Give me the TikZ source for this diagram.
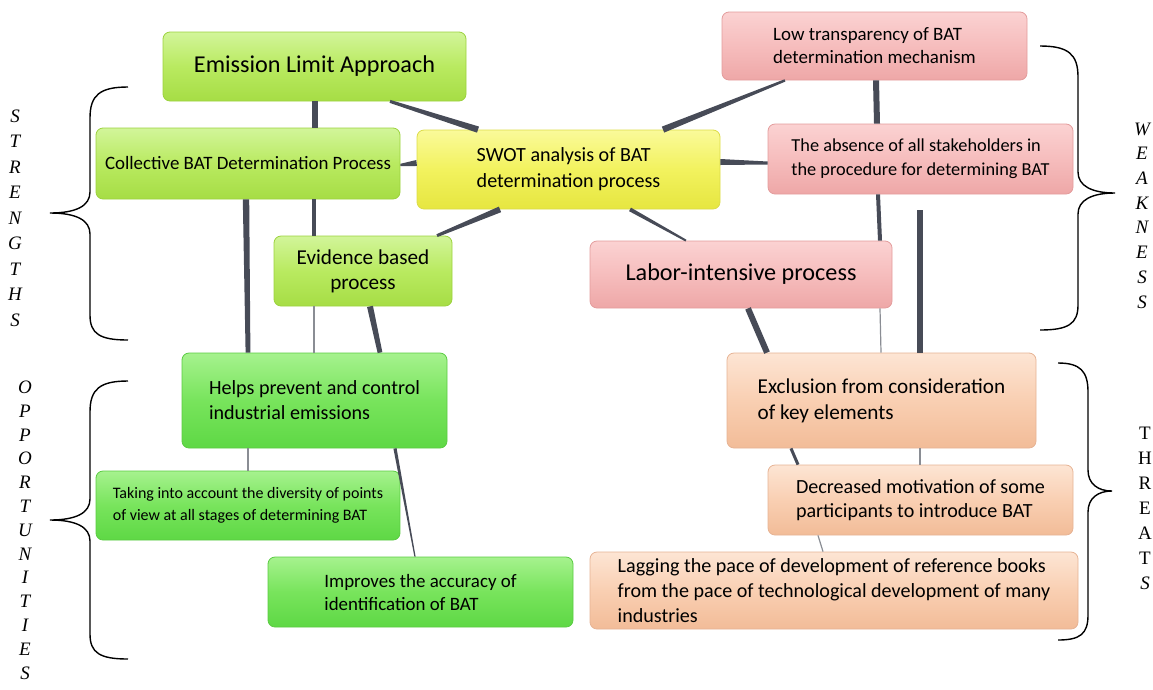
\documentclass[tikz,border=0pt]{standalone}
\usepackage{fontspec}
\setmainfont{Carlito}
\newfontfamily\tms{Liberation Serif}
\usetikzlibrary{calc}
\definecolor{lineC}{HTML}{474B57}
\definecolor{thinC}{HTML}{8A8D94}
\newcommand\fsz[2]{\fontsize{#1}{#2}\selectfont}
\newcommand\conn[5][lineC]{%
  \fill[#1] ($(#2)!#4!90:(#3)$) -- ($(#3)!#5!-90:(#2)$) -- ($(#3)!#5!90:(#2)$) -- ($(#2)!#4!-90:(#3)$) -- cycle;}
\tikzset{
  box/.style={rounded corners=7pt, line width=0.8pt, align=left, inner sep=0pt},
  lgbox/.style={box, draw=lgB, top color=lgT, bottom color=lgD, middle color=lgM},
  bgbox/.style={box, draw=bgB, top color=bgT, bottom color=bgD, middle color=bgM},
  ybox/.style={box, draw=yB, top color=yT, bottom color=yD, middle color=yM},
  pbox/.style={box, draw=pB, top color=pT, bottom color=pD, middle color=pM},
  obox/.style={box, draw=oB, top color=oT, bottom color=oD, middle color=oM},
  side/.style={align=center, inner sep=0pt}
}
\definecolor{lgT}{HTML}{D2F59A}\definecolor{lgM}{HTML}{B9EA60}\definecolor{lgD}{HTML}{A6DD45}\definecolor{lgB}{HTML}{9CD23E}
\definecolor{bgT}{HTML}{A6F28E}\definecolor{bgM}{HTML}{78E45C}\definecolor{bgD}{HTML}{5ED845}\definecolor{bgB}{HTML}{5ACB42}
\definecolor{yT}{HTML}{FAFA9A}\definecolor{yM}{HTML}{F2F25E}\definecolor{yD}{HTML}{E6E640}\definecolor{yB}{HTML}{DCDC48}
\definecolor{pT}{HTML}{FBD2D2}\definecolor{pM}{HTML}{F6BDBD}\definecolor{pD}{HTML}{EEA7A7}\definecolor{pB}{HTML}{E39C9C}
\definecolor{oT}{HTML}{FDE5D4}\definecolor{oM}{HTML}{F9CFB2}\definecolor{oD}{HTML}{F2BC98}\definecolor{oB}{HTML}{E6B394}
\begin{document}
\begin{tikzpicture}[x=1pt,y=-1pt]
\useasboundingbox (0,0) rectangle (1153,689);
% nodes
\node[lgbox, minimum width=303, minimum height=69, font=\fsz{24.2}{28}] (ela) at (314.5,66.5) {Emission Limit Approach};
\node[lgbox, minimum width=304, minimum height=71, font=\fsz{18.9}{22}] (col) at (248,163.5) {Collective BAT Determination Process};
\node[ybox, minimum width=303, minimum height=79, font=\fsz{20.1}{26}] (swot) at (568.5,169.5) {SWOT analysis of BAT\\determination process};
\node[lgbox, minimum width=178, minimum height=70, align=center, font=\fsz{21.2}{25}] (evi) at (363,271) {Evidence based\\process};
\node[pbox, minimum width=305, minimum height=68, font=\fsz{18.9}{23}] (low) at (874.5,46) {Low transparency of BAT\\determination mechanism};
\node[pbox, minimum width=305, minimum height=70, font=\fsz{18.3}{24}] (abs) at (920.5,159) {The absence of all stakeholders in\\the procedure for determining BAT};
\node[pbox, minimum width=302, minimum height=67, font=\fsz{24.2}{28}] (lab) at (741,274.5) {Labor-intensive process};
\node[bgbox, minimum width=265, minimum height=95, font=\fsz{20.1}{25}] (hel) at (314.5,400.5) {Helps prevent and control\\industrial emissions};
\node[bgbox, minimum width=304, minimum height=69, font=\fsz{16}{22}] (tak) at (248,505.5) {Taking into account the diversity of points\\of view at all stages of determining BAT};
\node[bgbox, minimum width=305, minimum height=70, font=\fsz{18.9}{23}] (imp) at (420.5,592) {Improves the accuracy of\\identification of BAT};
\node[obox, minimum width=309, minimum height=95, font=\fsz{21.2}{26}] (exc) at (881.5,400.5) {Exclusion from consideration\\of key elements};
\node[obox, minimum width=305, minimum height=70, font=\fsz{20.1}{24}] (dec) at (920.5,500) {Decreased motivation of some\\participants to introduce BAT};
\node[obox, minimum width=488, minimum height=77, font=\fsz{20.1}{25}] (lag) at (834,590.5) {Lagging the pace of development of reference books\\from the pace of technological development of many\\industries};
% connector end points
\coordinate (a1) at (ela.south -| 390,0);  \coordinate (b1) at (swot.north -| 478,0);
\coordinate (a2) at (ela.south -| 315,0);  \coordinate (b2) at (col.north -| 315,0);
\coordinate (a3) at (col.east |- 0,165);   \coordinate (b3) at (swot.west |- 0,163);
\coordinate (a4) at (col.south -| 314,0);  \coordinate (b4) at (evi.north -| 314,0);
\coordinate (a5) at (col.south -| 246,0);  \coordinate (b5) at (hel.north -| 248,0);
\coordinate (a6) at (swot.south -| 500,0); \coordinate (b6) at (evi.north -| 437,0);
\coordinate (a7) at (swot.north -| 663,0); \coordinate (b7) at (low.south -| 785,0);
\coordinate (a8) at (swot.east |- 0,162);  \coordinate (b8) at (abs.west |- 0,163);
\coordinate (a9) at (swot.south -| 630,0); \coordinate (b9) at (lab.north -| 686,0);
\coordinate (a10) at (low.south -| 876,0); \coordinate (b10) at (abs.north -| 877,0);
\coordinate (a11) at (abs.south -| 878,0); \coordinate (b11) at (lab.north -| 880,0);
\coordinate (a12) at ($(abs.south -| 920,0)+(0,16)$); \coordinate (b12) at (exc.north -| 920,0);
\coordinate (a13) at (lab.south -| 748,0); \coordinate (b13) at (exc.north -| 767,0);
\coordinate (a14) at (lab.south -| 880,0); \coordinate (b14) at (exc.north -| 881,0);
\coordinate (a15) at (exc.south -| 791,0); \coordinate (b15) at (dec.north -| 798,0);
\coordinate (a16) at (exc.south -| 920,0); \coordinate (b16) at (dec.north -| 920,0);
\coordinate (a17) at (dec.south -| 818,0); \coordinate (b17) at (lag.north -| 823,0);
\coordinate (a18) at (evi.south -| 314,0); \coordinate (b18) at (hel.north -| 314,0);
\coordinate (a19) at (evi.south -| 370,0); \coordinate (b19) at (hel.north -| 380,0);
\coordinate (a20) at (hel.south -| 395,0); \coordinate (b20) at (imp.north -| 415,0);
\coordinate (a21) at (hel.south -| 248,0); \coordinate (b21) at (tak.north -| 248,0);
% connectors
\conn{b1}{a1}{3.2pt}{1.5pt}
\conn{a2}{b2}{3pt}{3pt}
\conn{b3}{a3}{3pt}{1.2pt}
\conn{a4}{b4}{2pt}{2pt}
\conn{a5}{b5}{3.2pt}{2.4pt}
\conn{a6}{b6}{3pt}{1.5pt}
\conn{a7}{b7}{3.2pt}{1.2pt}
\conn{a8}{b8}{3pt}{1.5pt}
\conn{a9}{b9}{2pt}{1pt}
\conn{a10}{b10}{3pt}{3pt}
\conn{a11}{b11}{2pt}{2pt}
\conn{a12}{b12}{3pt}{3pt}
\conn{a13}{b13}{3pt}{3pt}
\conn[thinC]{a14}{b14}{0.6pt}{0.6pt}
\conn{a15}{b15}{1.5pt}{1.5pt}
\conn[thinC]{a16}{b16}{0.6pt}{0.6pt}
\conn[thinC]{a17}{b17}{0.6pt}{0.6pt}
\conn[thinC]{a18}{b18}{0.6pt}{0.6pt}
\conn{a19}{b19}{3pt}{2.4pt}
\conn{a20}{b20}{1.6pt}{0.6pt}
\conn[thinC]{a21}{b21}{0.6pt}{0.6pt}
% braces
\draw[line width=1.4pt] (128,87) .. controls (100,87) and (90,95) .. (90,118) -- (90,192) .. controls (90,206) and (76,213) .. (50,213) .. controls (76,213) and (90,220) .. (90,234) -- (90,315) .. controls (90,334) and (100,340) .. (128,340);
\draw[line width=1.4pt] (128,381) .. controls (100,381) and (90,389) .. (90,412) -- (90,499) .. controls (90,513) and (76,520) .. (50,520) .. controls (76,520) and (90,527) .. (90,541) -- (90,634) .. controls (90,653) and (100,659) .. (128,659);
\draw[line width=1.4pt] (1040,46) .. controls (1068,46) and (1078,54) .. (1078,77) -- (1078,172) .. controls (1078,186) and (1092,193) .. (1115,193) .. controls (1092,193) and (1078,200) .. (1078,214) -- (1078,305) .. controls (1078,324) and (1068,330) .. (1040,330);
\draw[line width=1.4pt] (1058,363) .. controls (1080,363) and (1088,371) .. (1088,392) -- (1088,470) .. controls (1088,484) and (1098,491) .. (1112,491) .. controls (1098,491) and (1088,498) .. (1088,512) -- (1088,615) .. controls (1088,634) and (1080,640) .. (1058,640);
% side labels
\node[side, font=\tms\itshape\fsz{19}{25.5}] (sS) at (15,218) {S\\T\\R\\E\\N\\G\\T\\H\\S};
\node[side, font=\tms\itshape\fsz{19}{23.8}] (sO) at (25,530) {O\\P\\P\\O\\R\\T\\U\\N\\I\\T\\I\\E\\S};
\node[side, font=\tms\itshape\fsz{19}{24.7}] (sW) at (1142,215.5) {W\\E\\A\\K\\N\\E\\S\\S};
\node[side, font=\tms\fsz{19}{25}] (sT) at (1145,508) {T\\H\\R\\E\\A\\T\\\textit{S}};
\end{tikzpicture}
\end{document}
